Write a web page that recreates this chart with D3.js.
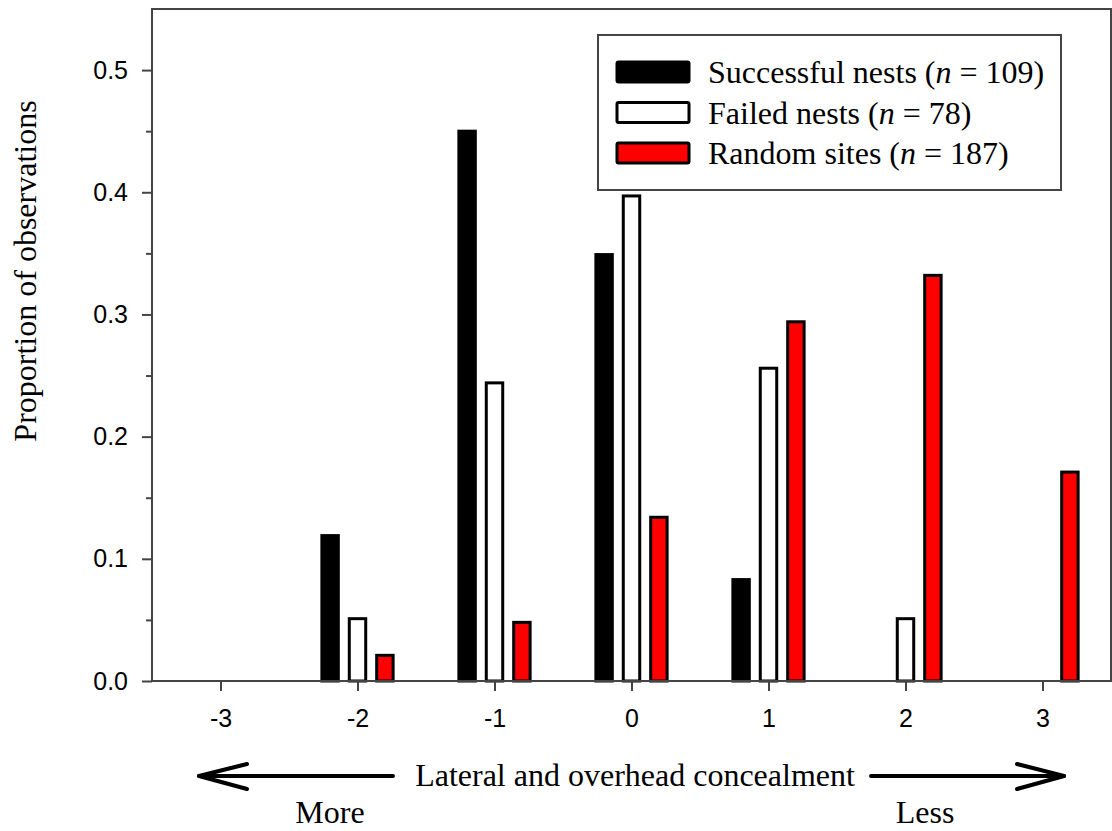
<!DOCTYPE html>
<html>
<head>
<meta charset="utf-8">
<script src="https://cdn.jsdelivr.net/npm/d3@7"></script>
<style>
  html, body { margin: 0; padding: 0; background: #fff; }
  svg { display: block; }
</style>
</head>
<body>
<svg id="chart" width="1112" height="831"></svg>
<script>
// Concealment score categories
const categories = [-3, -2, -1, 0, 1, 2, 3];
// Proportion of observations per category
const successful = [0, 0.119, 0.450, 0.349, 0.083, 0, 0];
const failed     = [0, 0.051, 0.244, 0.397, 0.256, 0.051, 0];
const random     = [0, 0.021, 0.048, 0.134, 0.294, 0.332, 0.171];
const seriesNames = ["Successful nests", "Failed nests", "Random sites"];
const seriesN = [109, 78, 187];
const seriesFill = ["#000000", "#ffffff", "#ff0000"];
const yTicks = [0.0, 0.1, 0.2, 0.3, 0.4, 0.5];

const svg = d3.select("#chart");
const margin = { left: 152, top: 9, right: 1111, bottom: 681 };

const x = d3.scaleLinear().domain([-3.5, 3.5]).range([margin.left, margin.right]);
const y = d3.scaleLinear().domain([0, 0.55]).range([margin.bottom, margin.top]);

const axisColor = "#444";
const sans = "Liberation Sans, Arial, sans-serif";
const tickSize = 25;

// Bars
const offset = 0.2;      // category units between groups
const barW = 0.12;       // category units
const series = [successful, failed, random];
series.forEach((vals, si) => {
  const dx = (si - 1) * offset;
  svg.append("g").selectAll("rect")
    .data(categories.map((c, i) => ({ c, v: vals[i] })).filter(d => d.v > 0))
    .join("rect")
    .attr("x", d => x(d.c + dx - barW / 2))
    .attr("width", x(barW) - x(0))
    .attr("y", d => y(d.v))
    .attr("height", d => y(0) - y(d.v))
    .attr("fill", seriesFill[si])
    .attr("stroke", "#000")
    .attr("stroke-width", 3);
});

// Frame
svg.append("rect")
  .attr("x", margin.left).attr("y", margin.top)
  .attr("width", margin.right - margin.left)
  .attr("height", margin.bottom - margin.top)
  .attr("fill", "none").attr("stroke", axisColor).attr("stroke-width", 2);

// Y axis (major ticks with labels, minor ticks between)
const yAxis = svg.append("g")
  .attr("transform", `translate(${margin.left},0)`)
  .call(d3.axisLeft(y).tickValues(yTicks).tickFormat(d3.format(".1f")).tickSize(10).tickPadding(14))
  .call(g => g.select(".domain").remove());
yAxis.selectAll("line").attr("stroke", axisColor).attr("stroke-width", 2);
yAxis.selectAll("text").attr("font-family", sans)
  .attr("font-size", tickSize).attr("fill", "#000");
svg.append("g")
  .attr("transform", `translate(${margin.left},0)`)
  .call(d3.axisLeft(y).tickValues([0.05, 0.15, 0.25, 0.35, 0.45]).tickFormat("").tickSize(6))
  .call(g => g.select(".domain").remove())
  .selectAll("line").attr("stroke", axisColor).attr("stroke-width", 2);

// X axis (plain hyphen for negative labels)
const xAxis = svg.append("g")
  .attr("transform", `translate(0,${margin.bottom})`)
  .call(d3.axisBottom(x).tickValues(categories).tickFormat(d => String(d)).tickSize(10).tickPadding(18))
  .call(g => g.select(".domain").remove());
xAxis.selectAll("line").attr("stroke", axisColor).attr("stroke-width", 2);
xAxis.selectAll("text").attr("font-family", sans)
  .attr("font-size", tickSize).attr("fill", "#000");

const serif = "Liberation Serif, Times New Roman, serif";
const serifSize = 32;

// Y axis title
svg.append("text")
  .attr("transform", `translate(36,${(margin.top + margin.bottom) / 2 - 74}) rotate(-90)`)
  .attr("text-anchor", "middle")
  .attr("font-family", serif).attr("font-size", serifSize).attr("fill", "#000")
  .text("Proportion of observations");

// X axis title with direction arrows
svg.append("text")
  .attr("x", 635).attr("y", 786)
  .attr("text-anchor", "middle")
  .attr("font-family", serif).attr("font-size", serifSize).attr("fill", "#000")
  .text("Lateral and overhead concealment");

const arrowY = 776;
const arrows = svg.append("g").attr("stroke", "#000").attr("stroke-width", 4)
  .attr("fill", "none").attr("stroke-linecap", "round").attr("stroke-linejoin", "round");
arrows.append("line").attr("x1", 393).attr("y1", arrowY).attr("x2", 199).attr("y2", arrowY);
arrows.append("path").attr("d", `M247,${arrowY - 12} L199,${arrowY} L247,${arrowY + 13}`);
arrows.append("line").attr("x1", 871).attr("y1", arrowY).attr("x2", 1064).attr("y2", arrowY);
arrows.append("path").attr("d", `M1017,${arrowY - 12} L1064,${arrowY} L1017,${arrowY + 13}`);

svg.append("text").attr("x", 330).attr("y", 823).attr("text-anchor", "middle")
  .attr("font-family", serif).attr("font-size", serifSize).attr("fill", "#000").text("More");
svg.append("text").attr("x", 925).attr("y", 823).attr("text-anchor", "middle")
  .attr("font-family", serif).attr("font-size", serifSize).attr("fill", "#000").text("Less");

// Legend
const legend = svg.append("g");
legend.append("rect")
  .attr("x", 598).attr("y", 35).attr("width", 463).attr("height", 155)
  .attr("fill", "#fff").attr("stroke", axisColor).attr("stroke-width", 2);
seriesNames.forEach((name, i) => {
  const ry = 62 + i * 40.5;
  legend.append("rect")
    .attr("x", 617).attr("y", ry).attr("width", 72).attr("height", 20)
    .attr("rx", 1.5)
    .attr("fill", seriesFill[i]).attr("stroke", "#000").attr("stroke-width", 3);
  const t = legend.append("text")
    .attr("x", 708).attr("y", ry + 21)
    .attr("font-family", serif).attr("font-size", serifSize).attr("fill", "#000");
  t.append("tspan").text(name + " (");
  t.append("tspan").attr("font-style", "italic").text("n");
  t.append("tspan").text(" = " + seriesN[i] + ")");
});
</script>
</body>
</html>
